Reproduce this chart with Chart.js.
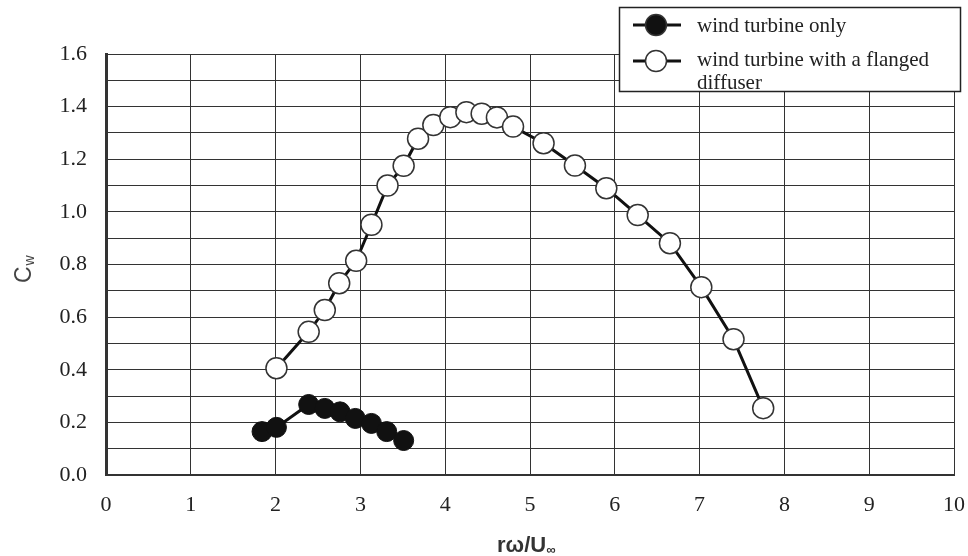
<!DOCTYPE html>
<html>
<head>
<meta charset="utf-8">
<script src="https://cdn.jsdelivr.net/npm/chart.js@4"></script>
<style>
  html, body { margin: 0; padding: 0; background: #fff; }
</style>
</head>
<body>
<canvas id="chart" width="968" height="556"></canvas>
<script>
// Tip speed ratio (r*omega/U) and power coefficient Cw
const bareTsr = [1.84, 2.01, 2.39, 2.58, 2.76, 2.94, 3.13, 3.31, 3.51];
const bareCw = [0.165, 0.181, 0.268, 0.253, 0.240, 0.215, 0.196, 0.165, 0.131];

const diffuserTsr = [2.01, 2.39, 2.58, 2.75, 2.95, 3.13, 3.32, 3.51, 3.68, 3.86, 4.06, 4.25,
                     4.43, 4.61, 4.80, 5.16, 5.53, 5.90, 6.27, 6.65, 7.02, 7.40, 7.75];
const diffuserCw = [0.406, 0.544, 0.627, 0.729, 0.814, 0.951, 1.100, 1.175, 1.278, 1.330, 1.360, 1.379,
                    1.373, 1.359, 1.324, 1.261, 1.176, 1.090, 0.988, 0.881, 0.714, 0.516, 0.254];

const seriesNames = ['wind turbine only', 'wind turbine with a flanged', 'diffuser'];
const xTitle = 'rω/U';
const yTitle = 'C';

const toPoints = (xs, ys) => xs.map((x, i) => ({ x: x, y: ys[i] }));

const serif = '"Liberation Serif", "DejaVu Serif", serif';
const sans = '"Liberation Sans", Arial, sans-serif';

// draws axis titles (with subscripts) and the boxed legend
const decorations = {
    id: 'decorations',
    afterDraw(chart) {
        const ctx = chart.ctx;
        ctx.save();

        // x title
        ctx.fillStyle = '#333';
        ctx.textBaseline = 'alphabetic';
        ctx.font = 'bold 22px ' + sans;
        ctx.textAlign = 'left';
        const xw = ctx.measureText(xTitle).width;
        const xs = 497;
        ctx.fillText(xTitle, xs, 552);
        ctx.font = 'bold 13px ' + sans;
        ctx.fillText('∞', xs + xw, 554);

        // y title, rotated
        ctx.translate(31, 283);
        ctx.rotate(-Math.PI / 2);
        ctx.font = '23px ' + sans;
        ctx.fillStyle = '#444';
        ctx.fillText(yTitle, 0, 0);
        const cw = ctx.measureText(yTitle).width;
        ctx.font = '14px ' + sans;
        ctx.fillText('w', cw + 1, 3);
        ctx.setTransform(1, 0, 0, 1, 0, 0);

        // legend box
        ctx.fillStyle = '#fff';
        ctx.fillRect(619, 7, 342, 85);
        ctx.strokeStyle = '#222';
        ctx.lineWidth = 1.5;
        ctx.strokeRect(619.5, 7.5, 341, 84);

        const rows = [25, 61];
        rows.forEach((y, i) => {
            ctx.strokeStyle = '#111';
            ctx.lineWidth = 3;
            ctx.beginPath();
            ctx.moveTo(633, y);
            ctx.lineTo(681, y);
            ctx.stroke();
            ctx.beginPath();
            ctx.arc(656, y, 10.5, 0, Math.PI * 2);
            ctx.fillStyle = i === 0 ? '#111' : '#fff';
            ctx.fill();
            ctx.lineWidth = 1.5;
            ctx.strokeStyle = '#333';
            ctx.stroke();
        });

        ctx.fillStyle = '#222';
        ctx.font = '21px ' + serif;
        ctx.textBaseline = 'middle';
        ctx.fillText(seriesNames[0], 697, 26);
        ctx.fillText(seriesNames[1], 697, 60);
        ctx.fillText(seriesNames[2], 697, 83);

        ctx.restore();
    }
};

const ctx = document.getElementById('chart').getContext('2d');
new Chart(ctx, {
    type: 'line',
    data: {
        datasets: [{
            label: seriesNames[0],
            data: toPoints(bareTsr, bareCw),
            borderColor: '#111',
            borderWidth: 3,
            pointRadius: 10,
            pointBackgroundColor: '#111',
            pointBorderColor: '#111',
            pointBorderWidth: 1,
            tension: 0
        }, {
            label: seriesNames[1] + ' ' + seriesNames[2],
            data: toPoints(diffuserTsr, diffuserCw),
            borderColor: '#111',
            borderWidth: 3,
            pointRadius: 10.5,
            pointBackgroundColor: '#fff',
            pointBorderColor: '#333',
            pointBorderWidth: 1.5,
            tension: 0
        }]
    },
    options: {
        responsive: false,
        animation: false,
        layout: { padding: { left: 0, right: 14, top: 54, bottom: 0 } },
        plugins: {
            legend: { display: false },
            tooltip: { enabled: false }
        },
        scales: {
            x: {
                type: 'linear',
                min: 0,
                max: 10,
                afterFit: (scale) => {
                    scale.height = 81;
                    scale.paddingLeft = 0;
                    scale.paddingRight = 0;
                },
                ticks: {
                    stepSize: 1,
                    padding: 17,
                    autoSkip: false,
                    maxRotation: 0,
                    color: '#222',
                    font: { family: serif, size: 22 }
                },
                grid: { color: '#333', lineWidth: 1, drawTicks: false },
                border: { color: '#333', width: 2 }
            },
            y: {
                min: 0,
                max: 1.6,
                afterFit: (scale) => {
                    scale.width = 106;
                    scale.paddingTop = 0;
                    scale.paddingBottom = 0;
                },
                ticks: {
                    stepSize: 0.1,
                    padding: 19,
                    autoSkip: false,
                    color: '#222',
                    font: { family: serif, size: 22 },
                    callback: (v) => {
                        const n = Math.round(v * 10);
                        return n % 2 === 0 ? (n / 10).toFixed(1) : '';
                    }
                },
                grid: { color: '#333', lineWidth: 1, drawTicks: false },
                border: { color: '#333', width: 3 }
            }
        }
    },
    plugins: [decorations]
});
</script>
</body>
</html>
